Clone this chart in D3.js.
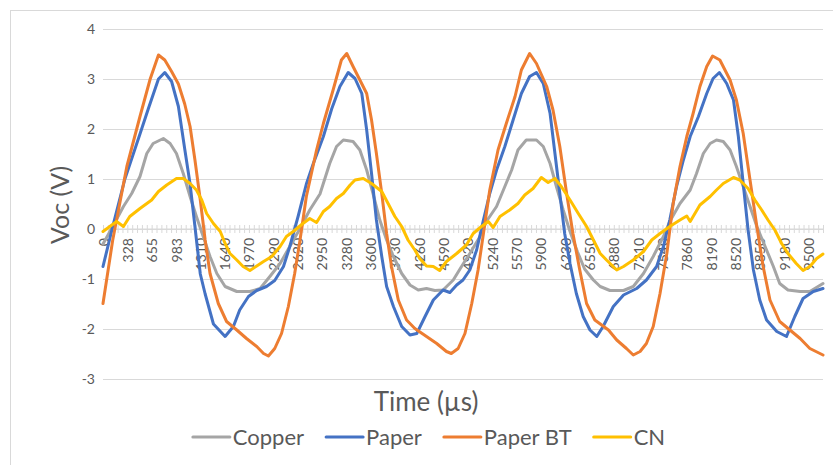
<!DOCTYPE html>
<html>
<head>
<meta charset="utf-8">
<script src="https://cdn.jsdelivr.net/npm/d3@7"></script>
<style>
  html, body { margin: 0; padding: 0; background: #fff; }
  svg { display: block; font-family: Lato, "Open Sans", sans-serif; }
</style>
</head>
<body>
<svg id="chart" width="833" height="465"></svg>
<script>
// ---------- data ----------
const sampleStep = 65.5;          // µs per sample (category)
const sampleCount = 149;          // samples 0..148
const xTickLabels = ["0","328","655","983","1310","1640","1970","2290","2620","2950",
  "3280","3600","3930","4260","4590","4920","5240","5570","5900","6230",
  "6550","6880","7210","7540","7860","8190","8520","8850","9180","9500"];
const yTicks = [-3, -2, -1, 0, 1, 2, 3, 4];
const seriesNames = ["Copper", "Paper", "Paper BT", "CN"];
const seriesColors = ["#A5A5A5", "#4472C4", "#ED7D31", "#FFC000"];

// [sample index, Voc (V)]
const copper = [[0,-0.3],[2,0.05],[4.2,0.45],[5.9,0.71],[7.6,1.05],[9,1.51],[10.3,1.71],[12.4,1.81],[13.8,1.71],[15.1,1.51],[16.5,1.11],[17.9,0.65],[19.2,0.25],[20.6,-0.15],[22,-0.55],[23.4,-0.89],[25.1,-1.15],[27.5,-1.25],[30.2,-1.25],[32.3,-1.19],[34.3,-0.95],[36.4,-0.69],[38.4,-0.35],[40.5,0.01],[42.5,0.38],[44.6,0.7],[46.6,1.31],[48,1.65],[49.4,1.78],[51.4,1.75],[52.8,1.58],[54.2,1.18],[55.5,0.71],[56.9,0.18],[58.3,-0.22],[59.7,-0.55],[61.4,-0.89],[63.1,-1.12],[64.8,-1.22],[66.5,-1.19],[68.2,-1.23],[69.9,-1.22],[72,-1.02],[73.7,-0.75],[75.4,-0.49],[77.5,-0.15],[78.8,0.15],[80.9,0.45],[82.6,0.85],[84,1.18],[85.3,1.58],[87,1.78],[89.1,1.78],[90.5,1.65],[91.9,1.31],[93.2,0.85],[94.6,0.38],[96,-0.05],[97.5,-0.45],[99,-0.8],[100.8,-1.02],[102.2,-1.15],[104.2,-1.23],[107,-1.23],[109,-1.15],[111.1,-0.89],[113.1,-0.55],[115.2,-0.15],[116.5,0.15],[118.6,0.51],[120.7,0.78],[122,1.11],[123.4,1.51],[124.8,1.71],[126.1,1.78],[127.5,1.75],[128.9,1.58],[130.2,1.25],[131.6,0.85],[133,0.45],[134.4,0.05],[136.1,-0.35],[137.8,-0.75],[139.1,-1.09],[140.8,-1.22],[143.3,-1.25],[145.3,-1.25],[148,-1.09]];

const paper = [[0,-0.75],[2,0.05],[4.5,1.0],[7.6,1.9],[9.3,2.4],[11.4,3.0],[12.7,3.13],[14.1,2.95],[15.5,2.45],[16.8,1.6],[17.9,0.9],[18.9,0.05],[20,-0.9],[21,-1.3],[22.7,-1.9],[25.1,-2.15],[26.8,-1.95],[28.1,-1.62],[29.9,-1.35],[31.6,-1.23],[33.6,-1.15],[35.3,-1.03],[37.1,-0.75],[38.4,-0.35],[40.1,0.25],[41.8,0.9],[43.2,1.3],[45.3,1.85],[47,2.4],[48.7,2.85],[50.4,3.13],[51.8,3.01],[53.2,2.71],[54.2,1.98],[55.2,1.11],[56.2,0.18],[57.3,-0.55],[58.3,-1.15],[59.7,-1.55],[61.4,-1.95],[63.1,-2.12],[64.5,-2.09],[66.2,-1.75],[67.9,-1.42],[69.9,-1.22],[71.3,-1.27],[72.7,-1.12],[74,-1.02],[75.4,-0.82],[76.8,-0.42],[78.2,0.18],[79.5,0.71],[80.9,1.18],[82.6,1.65],[84.3,2.18],[86,2.71],[87.7,3.05],[89.1,3.13],[90.5,2.91],[91.9,2.31],[92.9,1.51],[93.9,0.71],[94.9,-0.09],[96,-0.69],[97.3,-1.29],[98.7,-1.75],[100.1,-2.02],[101.5,-2.15],[102.8,-1.95],[104.9,-1.55],[107,-1.32],[109.7,-1.19],[111.7,-1.02],[113.8,-0.75],[115.2,-0.35],[116.5,0.18],[117.9,0.85],[119.3,1.38],[120.7,1.85],[122.4,2.25],[124.1,2.71],[125.4,3.01],[126.7,3.13],[128.2,2.91],[129.6,2.58],[130.6,1.85],[131.6,0.91],[132.6,-0.02],[133.7,-0.82],[135,-1.42],[136.4,-1.82],[138.5,-2.05],[140.5,-2.15],[142.2,-1.75],[143.9,-1.39],[146,-1.25],[148,-1.19]];

const paperBT = [[0,-1.49],[2,-0.22],[4.9,1.25],[7.6,2.25],[9.7,3.0],[11.4,3.48],[12.7,3.38],[14.1,3.15],[15.5,2.9],[16.8,2.5],[17.9,2.05],[18.9,1.38],[20,0.58],[21,-0.22],[22,-0.89],[23.7,-1.49],[25.4,-1.85],[27.5,-2.02],[29.5,-2.19],[31.6,-2.35],[33,-2.49],[34,-2.54],[35.3,-2.39],[36.7,-2.09],[38.1,-1.55],[39.4,-0.89],[40.5,-0.22],[41.8,0.65],[43.9,1.58],[45.3,2.11],[47.3,2.78],[49,3.38],[50.1,3.51],[51.4,3.25],[52.8,2.98],[54.2,2.71],[55.2,2.18],[56.2,1.51],[57.3,0.71],[58.3,-0.09],[59.3,-0.75],[60.7,-1.42],[62.4,-1.82],[64.1,-1.99],[66.5,-2.15],[68.6,-2.29],[70.6,-2.45],[71.6,-2.49],[73,-2.39],[74.4,-2.09],[75.8,-1.49],[77.1,-0.82],[78.2,-0.09],[79.5,0.78],[81.2,1.58],[82.9,2.11],[84.7,2.65],[86,3.18],[87.7,3.51],[89.1,3.31],[91.2,2.85],[92.5,2.38],[93.9,1.65],[95.3,0.71],[96.6,-0.09],[98,-0.82],[99.4,-1.49],[101.1,-1.82],[103.9,-2.02],[105.6,-2.22],[107.6,-2.39],[109,-2.52],[110.4,-2.45],[111.7,-2.29],[113.1,-1.95],[114.5,-1.29],[115.9,-0.49],[117.2,0.51],[118.6,1.25],[120,1.85],[121.3,2.31],[122.7,2.85],[124.1,3.25],[125.3,3.46],[126.8,3.38],[128.9,2.98],[130.2,2.58],[131.6,1.91],[133,0.98],[134.4,0.05],[135.7,-0.75],[137.1,-1.42],[139.1,-1.85],[141.2,-2.02],[143.3,-2.19],[145.3,-2.39],[148,-2.52]];

const cn = [[0,-0.05],[1.4,0.05],[2.8,0.15],[4.2,0.05],[5.5,0.25],[7.6,0.41],[10,0.58],[11.4,0.75],[13.1,0.88],[15.1,1.01],[16.5,1.01],[17.9,0.91],[19.2,0.78],[20.3,0.58],[21.3,0.31],[22.7,0.11],[24.1,-0.05],[25.1,-0.29],[26.1,-0.49],[27.5,-0.62],[28.8,-0.75],[30.2,-0.83],[31.6,-0.74],[33,-0.65],[34.7,-0.55],[36.4,-0.35],[37.7,-0.15],[39.1,-0.05],[41.1,0.11],[42.5,0.21],[43.9,0.13],[45.3,0.35],[46.6,0.45],[48,0.61],[49.4,0.71],[50.8,0.88],[51.8,0.98],[53.5,1.01],[55.2,0.91],[57.3,0.75],[58.6,0.51],[60,0.25],[61.4,0.05],[62.7,-0.22],[64.1,-0.42],[65.1,-0.59],[66.5,-0.74],[67.9,-0.75],[69.2,-0.83],[70.6,-0.65],[72.7,-0.49],[74.7,-0.32],[76.1,-0.09],[77.8,0.05],[79.2,0.15],[80.2,0.03],[81.6,0.25],[83.6,0.38],[85.3,0.51],[86.7,0.68],[88.4,0.81],[90.1,1.03],[91.5,0.93],[92.9,1.01],[94.2,0.85],[96,0.58],[97.7,0.31],[99.4,0.05],[100.8,-0.22],[102.2,-0.49],[103.5,-0.62],[105.6,-0.82],[107,-0.75],[109,-0.62],[111.1,-0.45],[112.8,-0.22],[114.5,-0.09],[116.5,0.05],[118.6,0.18],[120,0.26],[120.7,0.15],[122.7,0.48],[124.8,0.65],[126.1,0.78],[127.5,0.91],[129.6,1.03],[130.9,0.98],[132.6,0.81],[134,0.58],[135.4,0.38],[136.7,0.18],[138.1,-0.02],[139.5,-0.29],[140.8,-0.49],[142.5,-0.69],[143.9,-0.83],[145.3,-0.75],[146.7,-0.59],[148,-0.5]];

const seriesData = [copper, paper, paperBT, cn];

// ---------- layout ----------
const svg = d3.select("#chart");
const plot = { left: 103, right: 823, top: 29, bottom: 379 };
const textColor = "#595959";
const gridColor = "#D9D9D9";

svg.append("rect").attr("x", 10.5).attr("y", 10.5).attr("width", 840).attr("height", 470)
  .attr("fill", "#fff").attr("stroke", gridColor).attr("stroke-width", 1);

const x = d3.scaleLinear().domain([0, (sampleCount - 1) * sampleStep]).range([plot.left, plot.right]);
const y = d3.scaleLinear().domain([-3, 4]).range([plot.bottom, plot.top]);

// y gridlines + labels
const yAxis = svg.append("g").attr("transform", `translate(${plot.left},0)`)
  .call(d3.axisLeft(y).tickValues(yTicks).tickSize(-(plot.right - plot.left)).tickPadding(8).tickFormat(d3.format("d")));
yAxis.select(".domain").remove();
yAxis.selectAll("line").attr("stroke", gridColor).attr("stroke-width", 1);
yAxis.selectAll("text").attr("fill", textColor).attr("font-size", 14).attr("font-family", "Lato, sans-serif")
  .text(d => d < 0 ? "-" + Math.abs(d) : d);

// x axis at y=0 with category ticks
const sampleTimes = d3.range(sampleCount).map(i => i * sampleStep);
const xAxis = svg.append("g").attr("transform", `translate(0,${y(0)})`)
  .call(d3.axisBottom(x).tickValues(sampleTimes).tickSize(4)
    .tickFormat((d, i) => i % 5 === 0 ? xTickLabels[i / 5] : ""));
xAxis.select(".domain").attr("stroke", gridColor).attr("d", `M${plot.left},0H${plot.right}`);
xAxis.selectAll(".tick line").attr("stroke", gridColor).attr("y1", -4).attr("y2", 4);
xAxis.selectAll(".tick text")
  .attr("fill", textColor).attr("font-size", 14).attr("font-family", "Lato, sans-serif")
  .attr("transform", "rotate(-90)")
  .attr("text-anchor", "end")
  .attr("x", -9).attr("y", 0).attr("dy", "0.36em");

// series lines
const line = d3.line().x(d => x(d[0] * sampleStep)).y(d => y(d[1]));
svg.append("g").selectAll("path").data(seriesData).join("path")
  .attr("d", line)
  .attr("fill", "none")
  .attr("stroke", (d, i) => seriesColors[i])
  .attr("stroke-width", 3)
  .attr("stroke-linejoin", "round")
  .attr("stroke-linecap", "round");

// axis titles
svg.append("text").attr("x", 426).attr("y", 411).attr("text-anchor", "middle")
  .attr("fill", textColor).attr("font-size", 26).text("Time (µs)");
svg.append("text").attr("transform", "translate(69,205) rotate(-90)").attr("text-anchor", "middle")
  .attr("fill", textColor).attr("font-size", 25).text("Voc (V)");

// legend
const legend = svg.append("g");
const items = legend.selectAll("g").data(seriesNames).join("g");
items.append("line").attr("x1", 0).attr("x2", 37).attr("y1", 0).attr("y2", 0)
  .attr("stroke", (d, i) => seriesColors[i]).attr("stroke-width", 3).attr("stroke-linecap", "round");
items.append("text").attr("x", 40).attr("y", 0).attr("dy", "0.35em")
  .attr("fill", textColor).attr("font-size", 22).text(d => d);
let cx = 0;
const gap = 22;
items.each(function () {
  const w = 40 + this.querySelector("text").getComputedTextLength();
  d3.select(this).attr("transform", `translate(${cx},0)`);
  cx += w + gap;
});
const totalW = cx - gap;
legend.attr("transform", `translate(${429 - totalW / 2},437)`);
</script>
</body>
</html>
